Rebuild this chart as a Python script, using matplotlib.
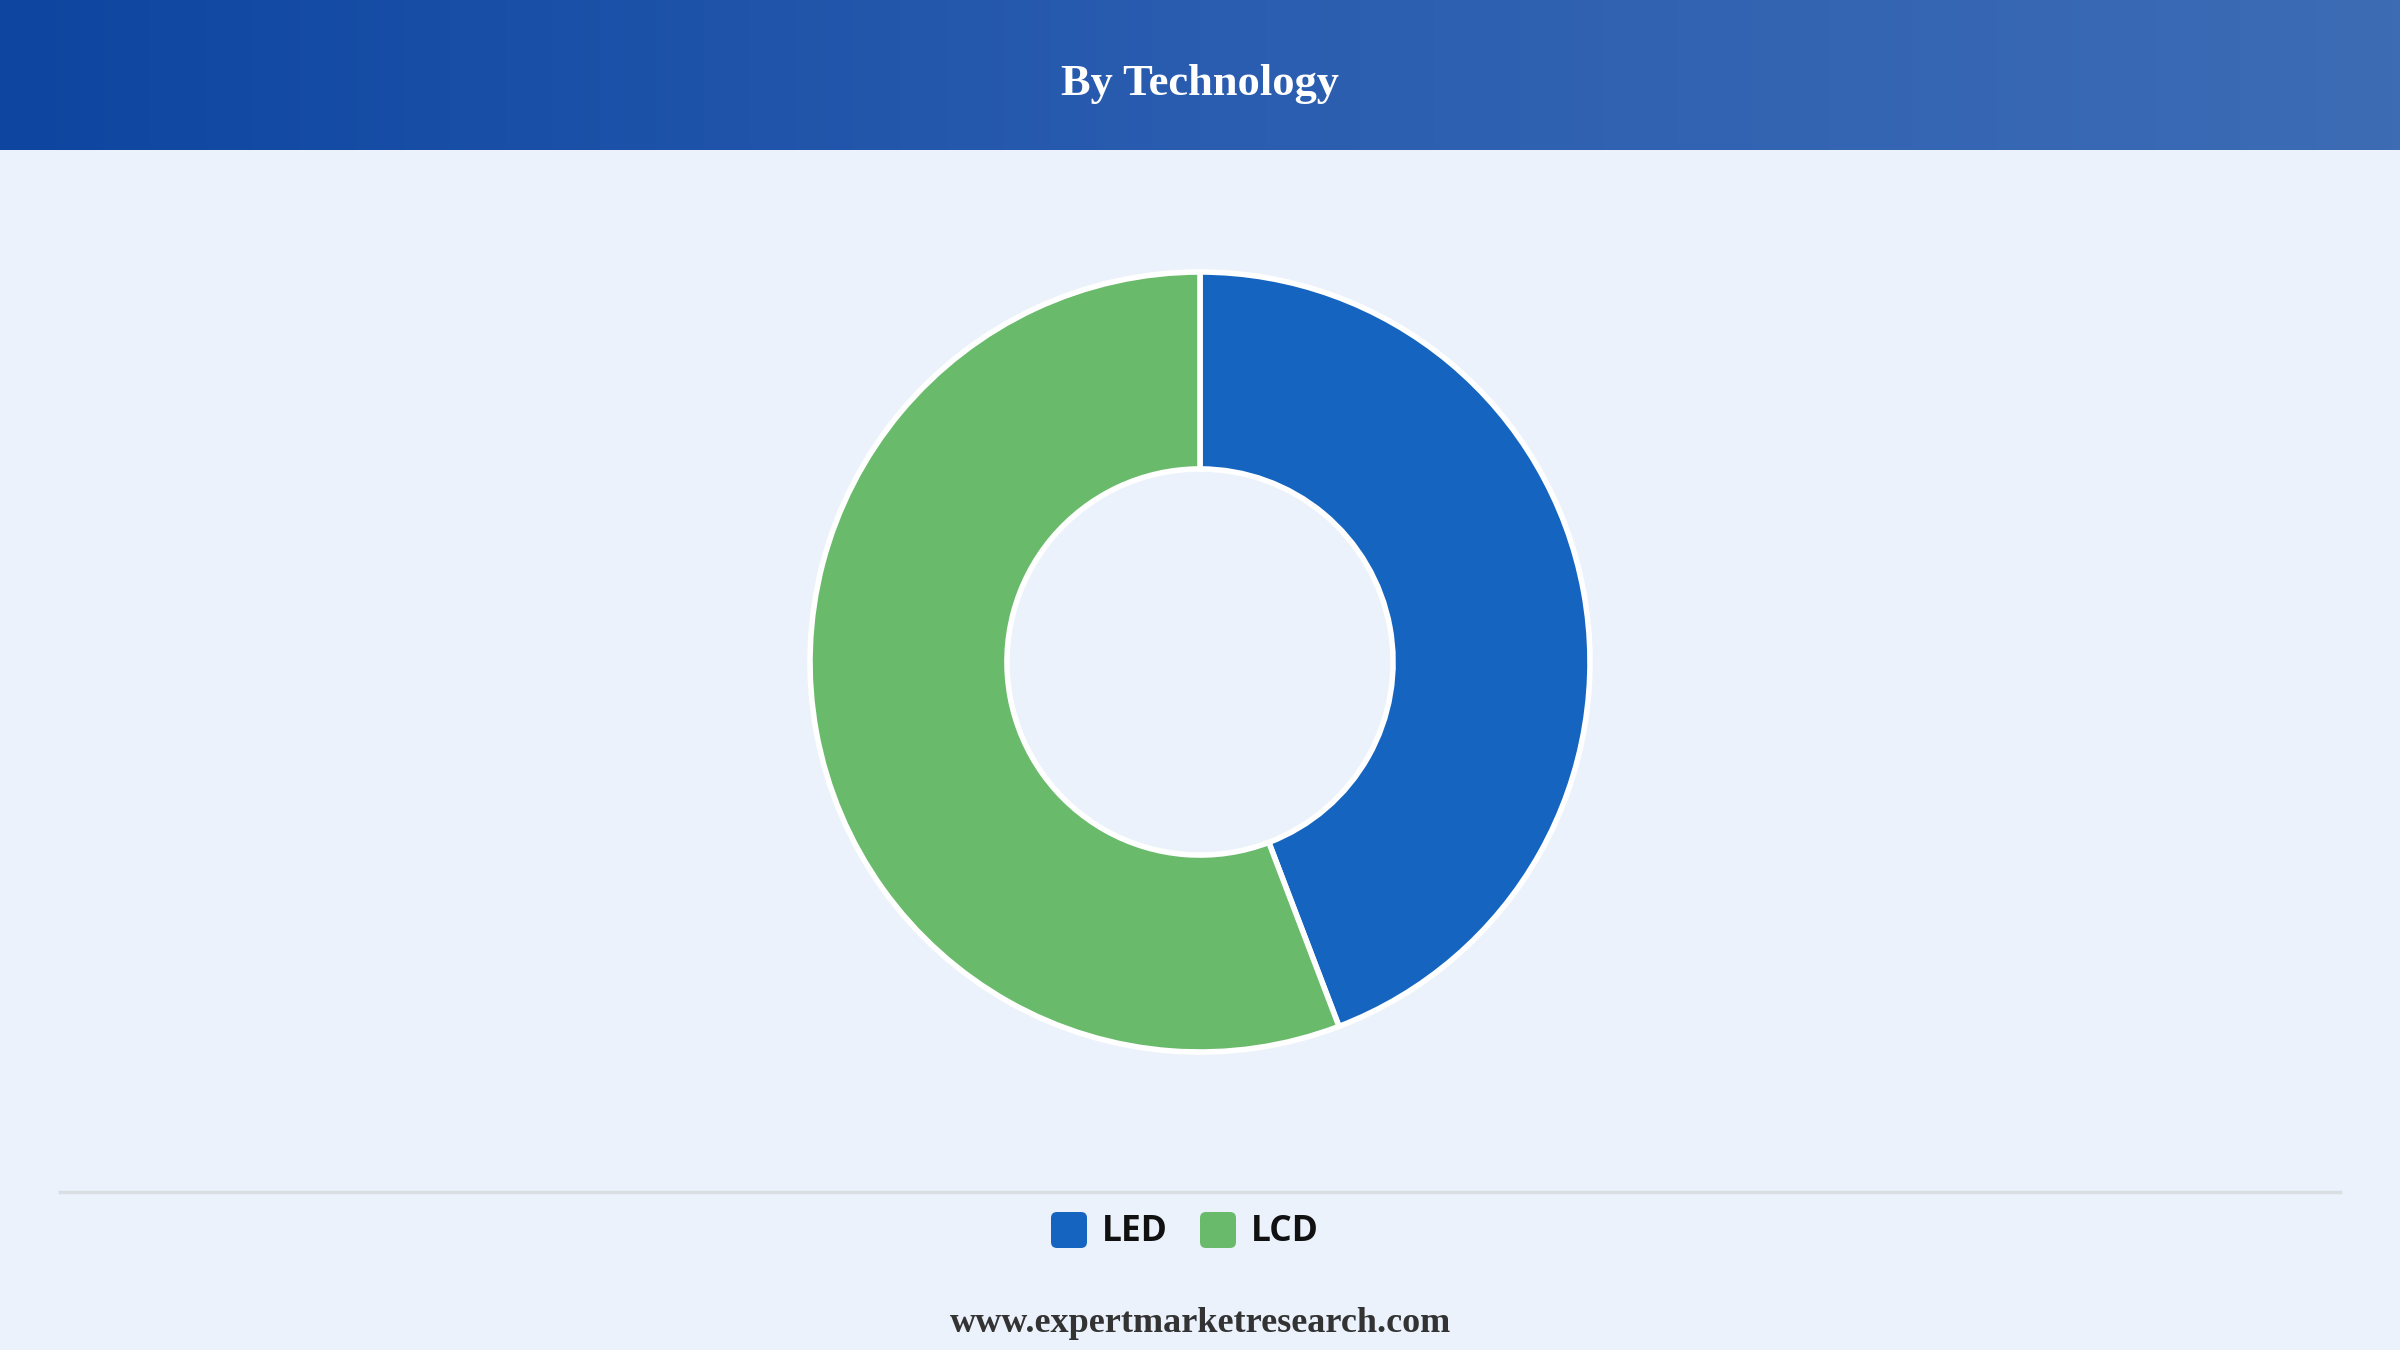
import numpy as np
import matplotlib
matplotlib.use('Agg')
import matplotlib.pyplot as plt
from matplotlib.patches import FancyBboxPatch
from matplotlib.colors import LinearSegmentedColormap

# data
labels = ['LED', 'LCD']
shares = [44.2, 55.8]
colors = ['#1565C0', '#69BB6B']

title = 'By Technology'
footer = 'www.expertmarketresearch.com'

bg = '#EBF2FC'
W, H = 2400, 1350

fig = plt.figure(figsize=(24, 13.5), dpi=100, facecolor=bg)

# overlay in pixel coordinates for header, separator, legend, footer
ov = fig.add_axes([0, 0, 1, 1])
ov.set_xlim(0, W)
ov.set_ylim(H, 0)
ov.axis('off')
ov.set_facecolor(bg)

header_cmap = LinearSegmentedColormap.from_list('hdr', ['#0D45A0', '#2A5DB0', '#3D6CB5'])
grad = np.linspace(0, 1, 512).reshape(1, -1)
ov.imshow(grad, cmap=header_cmap, extent=[0, W, 150, 0], aspect='auto', zorder=1)
ov.text(W / 2, 84, title, color='white', fontsize=32, fontweight='bold',
        family='Liberation Serif', ha='center', va='center', zorder=2)

ov.plot([60, 2340], [1192, 1192], color='#DADDE2', lw=2.5, zorder=1)

# legend
x = 1051
for lab, col in zip(labels, colors):
    box = FancyBboxPatch((x, 1212), 36, 36, boxstyle='round,pad=0,rounding_size=6',
                         facecolor=col, edgecolor='none', zorder=2)
    ov.add_patch(box)
    ov.text(x + 51, 1232, lab, fontsize=25.5, fontweight='bold', family='Open Sans',
            color='#111111', ha='left', va='center', zorder=2)
    x += 149

ov.text(W / 2, 1323, footer, fontsize=26, fontweight='bold', family='Liberation Serif',
        color='#333333', ha='center', va='center', zorder=2)

# donut
r = 390
cx, cy = 1200, 662
ax = fig.add_axes([(cx - r) / W, (H - cy - r) / H, 2 * r / W, 2 * r / H])
ax.pie(shares, colors=colors, startangle=90, counterclock=False, radius=1,
       wedgeprops=dict(width=0.505, edgecolor='white', linewidth=4))
ax.set_xlim(-1, 1)
ax.set_ylim(-1, 1)
ax.set_aspect('equal')
ax.axis('off')

fig.savefig('out.png', dpi=100, facecolor=bg)
